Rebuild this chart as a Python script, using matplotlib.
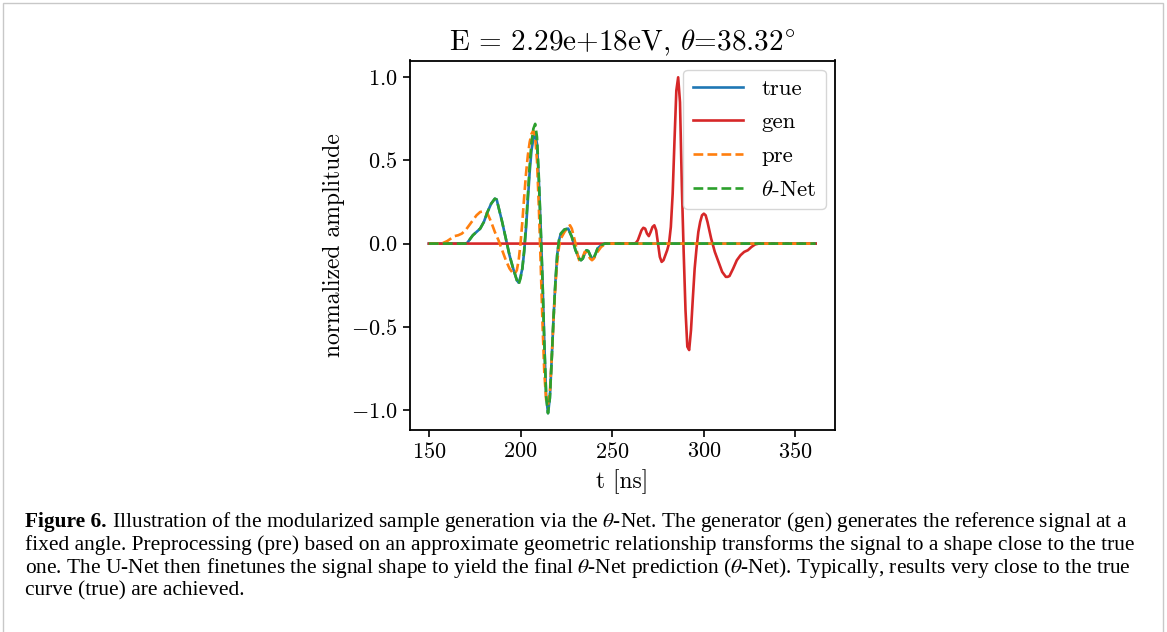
import matplotlib
matplotlib.use("Agg")
import matplotlib.pyplot as plt
import matplotlib.patches as patches

# --- 데이터 ---
t_true = [150, 168, 170, 171, 172, 174, 176, 178, 180, 182, 184, 186, 187, 188, 190,
          192, 194, 196, 198, 199, 200, 201, 202, 203, 204, 205, 206, 207, 208, 209,
          210, 211, 212, 213, 214, 215, 216, 217, 218, 219, 220, 221, 222, 224, 226,
          228, 230, 232, 233, 234, 235, 236, 237, 238, 239, 240, 241, 242, 244, 246,
          248, 361]
y_true = [0, 0, 0.0, 0.005, 0.02, 0.05, 0.07, 0.09, 0.13, 0.19, 0.24, 0.27, 0.265, 0.22, 0.13,
          0.03, -0.07, -0.15, -0.22, -0.235, -0.20, -0.15, -0.05, 0.09, 0.26, 0.43, 0.56, 0.63, 0.66, 0.60,
          0.38, 0.10, -0.22, -0.60, -0.92, -1.02, -0.93, -0.70, -0.45, -0.24, -0.07, 0.02, 0.06, 0.085, 0.09,
          0.04, -0.04, -0.09, -0.10, -0.09, -0.06, -0.04, -0.045, -0.07, -0.09, -0.085, -0.06, -0.03, -0.01, 0.0,
          0.0, 0]

t_net = t_true
y_net = [0, 0, 0.0, 0.005, 0.02, 0.05, 0.07, 0.09, 0.13, 0.19, 0.24, 0.27, 0.265, 0.22, 0.13,
         0.03, -0.07, -0.15, -0.22, -0.245, -0.21, -0.15, -0.04, 0.11, 0.29, 0.47, 0.61, 0.69, 0.72, 0.64,
         0.40, 0.10, -0.22, -0.60, -0.92, -1.02, -0.93, -0.70, -0.45, -0.24, -0.07, 0.02, 0.06, 0.085, 0.09,
         0.04, -0.04, -0.09, -0.10, -0.09, -0.06, -0.04, -0.045, -0.07, -0.09, -0.085, -0.06, -0.03, -0.01, 0.0,
         0.0, 0]

t_pre = [150, 156, 158, 160, 162, 164, 166, 168, 170, 172, 174, 176, 178, 180, 181,
         182, 184, 186, 188, 190, 192, 194, 196, 197, 198, 199, 200, 201, 202, 203,
         204, 205, 206, 207, 208, 209, 210, 211, 212, 213, 214, 215, 216, 217, 218,
         219, 220, 221, 222, 224, 226, 227, 228, 230, 231, 232, 233, 234, 235, 236,
         237, 238, 239, 240, 241, 242, 244, 246, 248, 361]
y_pre = [0, 0.0, 0.005, 0.015, 0.03, 0.045, 0.05, 0.06, 0.08, 0.11, 0.14, 0.17, 0.19, 0.195, 0.19,
         0.18, 0.13, 0.07, 0.02, -0.04, -0.10, -0.15, -0.18, -0.18, -0.16, -0.10, 0.0, 0.13, 0.28, 0.42,
         0.53, 0.61, 0.66, 0.68, 0.64, 0.50, 0.22, -0.12, -0.48, -0.78, -0.94, -0.97, -0.90, -0.70, -0.46,
         -0.26, -0.11, -0.02, 0.03, 0.07, 0.10, 0.11, 0.09, 0.0, -0.06, -0.10, -0.10, -0.08, -0.05, -0.05,
         -0.07, -0.09, -0.10, -0.09, -0.07, -0.05, -0.02, -0.005, 0, 0]

t_gen = [150, 262, 263, 264, 265, 266, 267, 268, 269, 270, 271, 272, 273, 274, 275,
         276, 277, 278, 279, 280, 281, 282, 283, 284, 285, 286, 287, 288, 289, 290,
         291, 292, 293, 294, 295, 296, 297, 298, 299, 300, 301, 302, 303, 304, 305,
         306, 308, 310, 312, 313, 314, 316, 318, 320, 322, 324, 326, 328, 330, 361]
y_gen = [0, 0, 0.005, 0.02, 0.05, 0.08, 0.095, 0.09, 0.06, 0.045, 0.07, 0.10, 0.11, 0.08, 0.0,
         -0.08, -0.11, -0.10, -0.07, -0.04, 0.0, 0.10, 0.30, 0.62, 0.92, 1.0, 0.85, 0.35, -0.05, -0.40,
         -0.62, -0.64, -0.52, -0.33, -0.15, -0.03, 0.07, 0.13, 0.17, 0.18, 0.17, 0.13, 0.08, 0.03, -0.01,
         -0.05, -0.11, -0.17, -0.20, -0.20, -0.195, -0.15, -0.10, -0.07, -0.05, -0.04, -0.02, -0.005, 0, 0]

title = r"E = 2.29e+18eV, $\theta$=38.32$^{\!\circ}$"
caption_lines = [
    r" Illustration of the modularized sample generation via the $\theta$-Net. The generator (gen) generates the reference signal at a",
    r"fixed angle. Preprocessing (pre) based on an approximate geometric relationship transforms the signal to a shape close to the true",
    r"one. The U-Net then finetunes the signal shape to yield the final $\theta$-Net prediction ($\theta$-Net). Typically, results very close to the true",
    r"curve (true) are achieved.",
]

# --- 스타일 ---
plt.rcParams['font.family'] = 'serif'
plt.rcParams['font.serif'] = ['cmr10']
plt.rcParams['mathtext.fontset'] = 'cm'
plt.rcParams['axes.formatter.use_mathtext'] = True
plt.rcParams['axes.unicode_minus'] = True

W, H = 1167, 632
fig = plt.figure(figsize=(W / 100, H / 100), dpi=100)
ax = fig.add_axes([409.5 / W, 1 - 430 / H, (835 - 409.5) / W, (430 - 60.5) / H])

lw = 1.9
ax.plot(t_true, y_true, color='#1f77b4', lw=lw, label='true')
ax.plot(t_gen, y_gen, color='#d62728', lw=lw, label='gen')
ax.plot(t_pre, y_pre, color='#ff7f0e', lw=lw, ls='--', label='pre')
ax.plot(t_net, y_net, color='#2ca02c', lw=lw, ls='--', label=r'$\theta$-Net')

ax.set_xticks([150, 200, 250, 300, 350])
ax.set_yticks([-1.0, -0.5, 0.0, 0.5, 1.0])
ax.tick_params(labelsize=16, width=1.2, length=5)
for s in ax.spines.values():
    s.set_linewidth(1.3)

ax.set_title(title, fontsize=21, pad=7)
ax.set_xlabel('t [ns]', fontsize=17, labelpad=5)
ax.set_ylabel('normalized amplitude', fontsize=17)
ax.legend(loc='upper right', fontsize=16.5, handlelength=2.2, borderaxespad=0.4,
          labelspacing=0.59)

# 페이지 테두리
fig.add_artist(patches.Rectangle((3 / W, -0.05), (1163 - 3) / W, 1.05 - 3 / H,
                                 transform=fig.transFigure, fill=False,
                                 edgecolor='#c8c8c8', lw=1.0))

# --- 캡션 ---
cap_font = 'Liberation Serif'
x0 = 25 / W
line_y = [522, 545, 568, 591]
renderer = fig.canvas.get_renderer()

# 두번째 줄 폭에 맞춰 글자 크기 결정
probe = fig.text(x0, 0.5, caption_lines[1], fontsize=12, family=cap_font)
wpx = probe.get_window_extent(renderer).width
probe.remove()
cap_size = 12 * (1131 - 25) / wpx

bold = fig.text(x0, 1 - line_y[0] / H, 'Figure 6.', fontsize=cap_size, family=cap_font,
                weight='bold', va='center', math_fontfamily='stix')
bw = bold.get_window_extent(renderer).width
fig.text(x0 + bw / W, 1 - line_y[0] / H, caption_lines[0], fontsize=cap_size,
         family=cap_font, va='center', math_fontfamily='stix')
for ln, yy in zip(caption_lines[1:], line_y[1:]):
    fig.text(x0, 1 - yy / H, ln, fontsize=cap_size, family=cap_font, va='center',
             math_fontfamily='stix')

fig.savefig('out.png', dpi=100)
